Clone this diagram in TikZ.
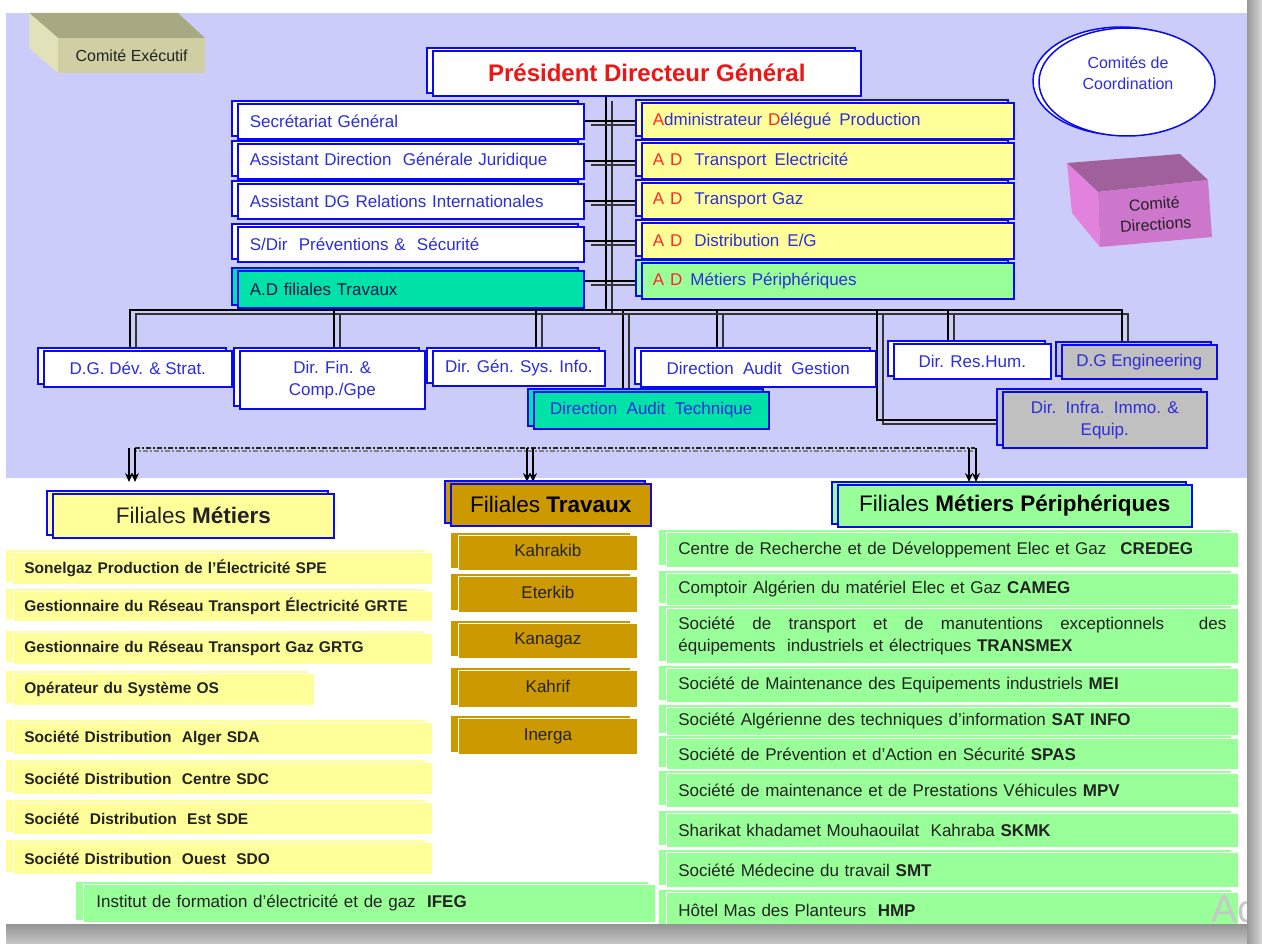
\documentclass[tikz,border=0pt]{standalone}
\usepackage{fontspec}
\setmainfont{Liberation Sans}
\usetikzlibrary{shapes.geometric,shadows,backgrounds,arrows.meta}
\definecolor{bblue}{RGB}{10,10,240}
\definecolor{tblue}{RGB}{45,45,220}
\definecolor{adred}{RGB}{255,40,40}
\definecolor{pdgred}{RGB}{240,20,20}
\definecolor{lav}{RGB}{204,204,250}
\definecolor{yel}{RGB}{255,255,153}
\definecolor{grn}{RGB}{153,255,153}
\definecolor{tealg}{RGB}{0,226,168}
\definecolor{gld}{RGB}{204,153,0}
\definecolor{gryb}{RGB}{192,192,192}
\definecolor{khtop}{RGB}{168,168,130}
\definecolor{khfront}{RGB}{207,207,163}
\definecolor{khleft}{RGB}{226,226,186}
\definecolor{pktop}{RGB}{160,96,156}
\definecolor{pkfront}{RGB}{204,119,204}
\definecolor{pkleft}{RGB}{226,130,222}
\definecolor{dtext}{RGB}{35,35,35}
\definecolor{navy}{RGB}{20,20,70}
\newcommand\szS{\fontsize{17}{22}\selectfont}
\newcommand\szM{\fontsize{16}{21}\selectfont}
\newcommand\szB{\fontsize{15.5}{18}\selectfont}
\newcommand\szH{\fontsize{22.5}{26}\selectfont}
\newcommand\szP{\fontsize{24}{28}\selectfont}
\tikzset{
  bx/.style={draw=bblue, line width=1.6pt, fill=#1, anchor=north west, inner sep=0pt,
    general shadow={shadow xshift=-6pt, shadow yshift=3pt, fill=#1, draw=bblue, line width=1.6pt}},
  lb/.style={fill=#1, draw=white, line width=0.8pt, anchor=north west, inner sep=0pt,
    general shadow={shadow xshift=-7pt, shadow yshift=2pt, fill=#1, draw=none}},
  lc/.style={bx=#1, text width=322pt, inner xsep=12pt, minimum height=35pt, align=left, font=\szS, text=tblue},
  rc/.style={bx=#1, text width=350pt, inner xsep=11pt, minimum height=36pt, align=left, font=\szS, text=tblue},
  mid/.style={bx=#1, font=\szS, text=tblue, align=center},
  ml/.style={lb=yel, text width=397pt, inner xsep=11pt, align=left, font=\szB\bfseries, text=dtext},
  tl/.style={lb=gld, minimum width=179pt, font=\szS, text=dtext, text height=12pt, text depth=4pt},
  pl/.style={lb=grn, text width=548pt, inner xsep=12pt, align=left, font=\szS, text=dtext},
  hd/.style={bx=#1, font=\szH, text=dtext},
  conn/.style={line width=2.2pt, draw=black,
    preaction={draw=black!80, line width=2.2pt, transform canvas={shift={(6pt,-4pt)}}}},
  arr/.style={-{Stealth[length=9pt,width=8pt]}, line width=1.3pt, draw=black},
  dashln/.style={line width=1.5pt, draw=black!85, dash pattern=on 5pt off 2pt on 2pt off 2pt},
}
\begin{document}
\begin{tikzpicture}[x=1pt,y=-1pt]
\useasboundingbox (0,0) rectangle (1262,944);
\begin{scope}[on background layer]
\fill[white] (0,0) rectangle (1262,944);
\fill[lav] (6,13) rectangle (1247,478);
\end{scope}

% Comite Executif
\fill[khtop] (29,13) -- (178,13) -- (205,38) -- (58,38) -- cycle;
\fill[khleft] (29,13) -- (58,38) -- (58,73) -- (29,48) -- cycle;
\node[fill=khfront, anchor=north west, minimum width=147pt, minimum height=35pt, inner sep=0pt, font=\szM, text=dtext] (ce) at (58,38) {Comité Exécutif};

% Comite Directions
\fill[pktop] (1067,163) -- (1180,154) -- (1208,180) -- (1098,192) -- cycle;
\fill[pkleft] (1067,163) -- (1098,192) -- (1100,247) -- (1072,213) -- cycle;
\fill[pkfront] (1098,192) -- (1208,180) -- (1212,237) -- (1100,247) -- cycle;
\node[font=\szM, text=dtext, align=center, rotate=4] (cd) at (1155,214) {Comité\\Directions};

% Comites de coordination
\node[ellipse, draw=bblue, line width=1.5pt, fill=white, minimum width=176pt, minimum height=108pt,
  general shadow={shadow xshift=-6pt, shadow yshift=1pt, fill=white, draw=bblue, line width=1.5pt}] (cc) at (1127,82) {};
\node[font=\szM, text=tblue, align=center] (cct) at (1128,73) {Comités de\\Coordination};

% PDG
\node[bx=white, minimum width=428pt, minimum height=45pt, font=\szP\bfseries, text=pdgred] (pdg) at (432,50) {Président Directeur Général};

% left column
\node[lc=white] (sg) at (237,103) {Secrétariat Général};
\node[lc=white] (adj) at (237,143) {Assistant Direction\ \ Générale Juridique};
\node[lc=white] (adri) at (237,183) {Assistant DG Relations Internationales};
\node[lc=white] (sdp) at (237,226) {S/Dir\ \ Préventions \&\ \ Sécurité};
\node[lc=tealg, text=navy, minimum height=37pt] (adft) at (237,270) {A.D filiales Travaux};

% right column
\node[rc=yel] (adp) at (641,102) {\textcolor{adred}{A}dministrateur \textcolor{adred}{D}élégué\hspace{8pt}Production};
\node[rc=yel] (ate) at (641,142) {\textcolor{adred}{A\hspace{6pt}D}\hspace{12pt}Transport\hspace{8pt}Electricité};
\node[rc=yel] (atg) at (641,182) {\textcolor{adred}{A\hspace{6pt}D}\hspace{12pt}Transport Gaz};
\node[rc=yel] (ad) at (641,222) {\textcolor{adred}{A\hspace{6pt}D}\hspace{12pt}Distribution\hspace{8pt}E/G};
\node[rc=grn] (amp) at (641,262) {\textcolor{adred}{A\hspace{6pt}D}\hspace{8pt}Métiers Périphériques};

% second tier
\node[mid=white, minimum width=188pt, minimum height=36pt] (dgdev) at (43,350) {D.G. Dév. \& Strat.};
\node[mid=white, minimum width=185pt, minimum height=58pt] (dfin) at (239,350) {Dir. Fin. \&\\Comp./Gpe};
\node[mid=white, minimum width=172pt, minimum height=35pt] (dgsi) at (432,350) {Dir. Gén. Sys. Info.};
\node[mid=white, minimum width=235pt, minimum height=36pt] (dag) at (640,350) {Direction\ \ Audit\ \ Gestion};
\node[mid=tealg, minimum width=235pt, minimum height=37pt] (dat) at (533,391) {Direction\ \ Audit\ \ Technique};
\node[mid=white, minimum width=157pt, minimum height=35pt] (drh) at (893,343) {Dir. Res.Hum.};
\node[mid=gryb, minimum width=155pt, minimum height=34pt] (dge) at (1061,344) {D.G Engineering};
\node[mid=gryb, minimum width=204pt, minimum height=56pt] (dinf) at (1002,391) {Dir.\ \ Infra.\ \ Immo. \&\\Equip.};

% connectors
\begin{scope}[on background layer]
\coordinate (bus) at (606,310);
\coordinate (ij) at (877,310);
\draw[conn] (pdg.south -| bus) -- (bus);
\foreach \l/\r in {sg/adp, adj/ate, adri/atg, sdp/ad, adft/amp}
  \draw[conn] (\r.west -| \l.east) -- (\r.west);
\draw[conn] ([xshift=-8pt]dgdev.north) |- (bus) -| ([xshift=-17.5pt]dge.north);
\draw[conn] ([xshift=1.5pt]dfin.north) |- (bus);
\draw[conn] ([xshift=17pt]dgsi.north) |- (bus);
\draw[conn] ([xshift=-28.5pt]dat.north) |- (bus);
\draw[conn] ([xshift=-41.5pt]dag.north) |- (bus);
\draw[conn] ([xshift=-24.5pt]drh.north) |- (bus);
\draw[conn] (ij) |- (dinf.west);
% dashed distribution line
\coordinate (dl) at (135,448);
\coordinate (dr) at (975,448);
\draw[dashln] (dl) -- (dr);
\draw[dashln, draw=black!50, dash phase=3pt] ([yshift=-3pt]dl) -- ([yshift=-3pt]dr);
\end{scope}

% arrows
\foreach \n/\x in {a1/129, a2/135, b1/527, b2/533, c1/969, c2/976}{
  \coordinate (\n s) at (\x,448);
  \coordinate (\n e) at (\x,482);
  \draw[arr] (\n s) -- (\n e);
}

% Filiales Metiers
\node[hd=yel, minimum width=281pt, minimum height=44pt] (fm) at (52,493) {Filiales \textbf{Métiers}};
\node[ml, minimum height=32pt] (spe) at (13,552) {Sonelgaz Production de l’Électricité SPE};
\node[ml, minimum height=30pt] (grte) at (13,591) {Gestionnaire du Réseau Transport Électricité GRTE};
\node[ml, minimum height=31pt] (grtg) at (13,633) {Gestionnaire du Réseau Transport Gaz GRTG};
\node[ml, text width=279pt, minimum height=32pt] (os) at (13,673) {Opérateur du Système OS};
\node[ml, minimum height=32pt] (sda) at (13,722) {Société Distribution\ \ Alger SDA};
\node[ml, minimum height=32pt] (sdc) at (13,762) {Société Distribution\ \ Centre SDC};
\node[ml, minimum height=32pt] (sde) at (13,802) {Société\ \ Distribution\ \ Est SDE};
\node[ml, minimum height=32pt] (sdo) at (13,842) {Société Distribution\ \ Ouest\ \ SDO};
\node[lb=grn, text width=546pt, inner xsep=13pt, align=left, minimum height=38pt, font=\szS, text=dtext] (ifeg) at (83,884) {Institut de formation d’électricité et de gaz\ \ \textbf{IFEG}};

% Filiales Travaux
\node[hd=gld, minimum width=200pt, minimum height=42pt, text=black] (ft) at (450,483) {Filiales \textbf{Travaux}};
\node[tl, minimum height=35pt] (kah) at (458,535) {Kahrakib};
\node[tl, minimum height=36pt] (ete) at (458,576) {Eterkib};
\node[tl, minimum height=35pt] (kan) at (458,623) {Kanagaz};
\node[tl, minimum height=37pt] (khf) at (458,670) {Kahrif};
\node[tl, minimum height=36pt] (ine) at (458,718) {Inerga};

% Filiales Metiers Peripheriques
\node[hd=grn, minimum width=354pt, minimum height=42pt, text=black] (fp) at (837,484) {Filiales \textbf{Métiers Périphériques}};
\node[pl, minimum height=35pt] (credeg) at (666,532) {Centre de Recherche et de Développement Elec et Gaz\hspace{14pt}\textbf{CREDEG}};
\node[pl, minimum height=32pt] (cameg) at (666,573) {Comptoir Algérien du matériel Elec et Gaz \textbf{CAMEG}};
\node[pl, minimum height=55pt] (transmex) at (666,608) {\hbox to 548pt{Société\hfill de\hfill transport\hfill et\hfill de\hfill manutentions\hfill exceptionnels\hfill\hfill des}\\équipements\ \ industriels et électriques \textbf{TRANSMEX}};
\node[pl, minimum height=34pt] (mei) at (666,668) {Société de Maintenance des Equipements industriels \textbf{MEI}};
\node[pl, minimum height=28pt] (sat) at (666,707) {Société Algérienne des techniques d’information \textbf{SAT INFO}};
\node[pl, minimum height=31pt] (spas) at (666,738) {Société de Prévention et d’Action en Sécurité \textbf{SPAS}};
\node[pl, minimum height=34pt] (mpv) at (666,773) {Société de maintenance et de Prestations Véhicules \textbf{MPV}};
\node[pl, minimum height=34pt] (skmk) at (666,813) {Sharikat khadamet Mouhaouilat\ \ Kahraba \textbf{SKMK}};
\node[pl, minimum height=35pt] (smt) at (666,852) {Société Médecine du travail \textbf{SMT}};
\node[pl, minimum height=35pt] (hmp) at (666,892) {Hôtel Mas des Planteurs\ \ \textbf{HMP}};

% watermark and frame
\node[font=\fontsize{39}{39}\selectfont, text=black!22, anchor=west, inner sep=0pt] (ac) at (1211,909) {Ac};
\shade[left color=black!40, right color=black!15] (1247,0) rectangle (1262,944);
\shade[top color=black!42, bottom color=black!22] (6,924) rectangle (1247,944);
\end{tikzpicture}
\end{document}
